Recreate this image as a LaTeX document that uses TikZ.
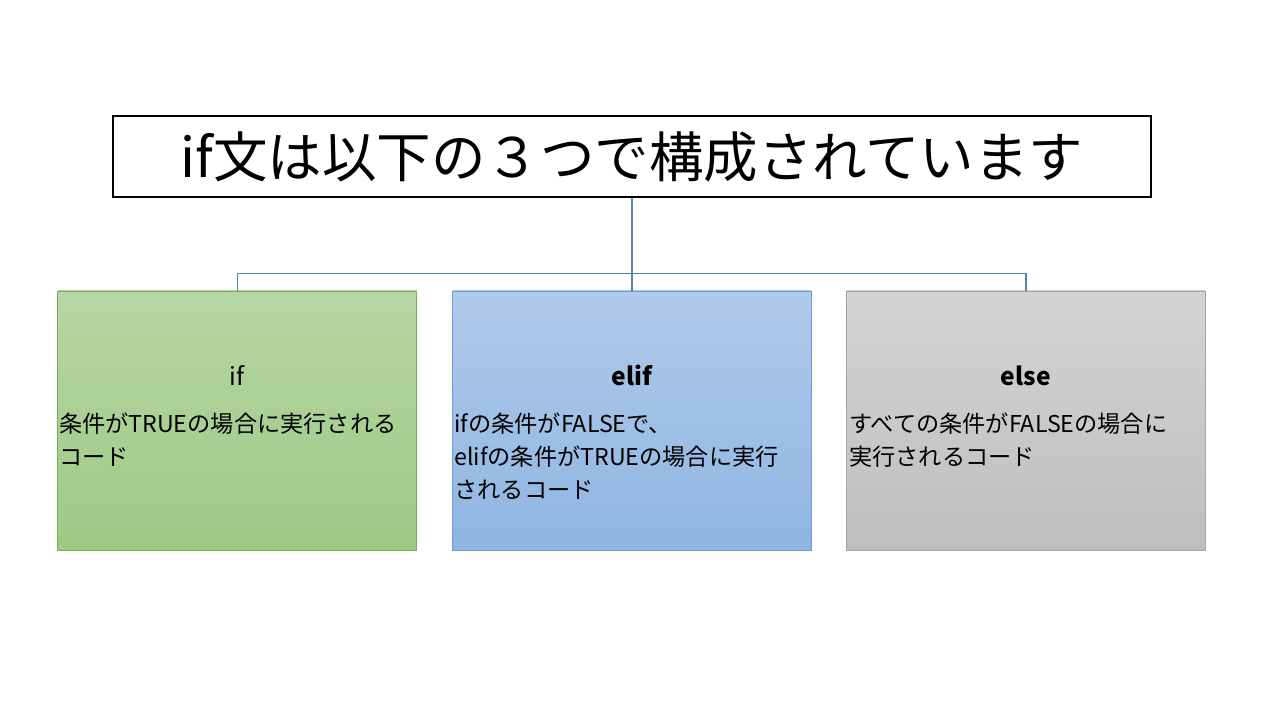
\documentclass[tikz,border=0pt]{standalone}
\usepackage{fontspec}
\setmainfont{Noto Sans CJK JP}
\usetikzlibrary{positioning}
\definecolor{linkblue}{RGB}{84,130,180}
\definecolor{greentop}{RGB}{182,215,164}
\definecolor{greenbot}{RGB}{157,201,132}
\definecolor{greenline}{RGB}{120,172,88}
\definecolor{bluetop}{RGB}{176,202,234}
\definecolor{bluebot}{RGB}{143,181,226}
\definecolor{blueline}{RGB}{106,155,211}
\definecolor{graytop}{RGB}{212,212,212}
\definecolor{graybot}{RGB}{190,190,190}
\definecolor{grayline}{RGB}{165,165,165}
\tikzset{
  titlebox/.style={draw=black, line width=0.6pt, minimum width=20.76cm, minimum height=1.62cm,
    inner sep=0pt, font=\fontsize{31}{36}\selectfont},
  casebox/.style={line width=0.5pt, minimum width=7.18cm, minimum height=5.18cm, inner sep=0pt},
  headtext/.style={inner sep=0pt, font=\fontsize{14}{18}\selectfont},
  bodytext/.style={anchor=north west, inner sep=0pt, align=left, font=\fontsize{13.2}{18.7}\selectfont},
  link/.style={draw=linkblue, line width=0.7pt}
}
\begin{document}
\begin{tikzpicture}
  \useasboundingbox[fill=white] (0,0) rectangle (25.6,14.4);
  % title
  \node[titlebox] (title) at (12.64,11.27) {if文は以下の３つで構成されています};
  % the three cases
  \node[casebox, below=1.86cm of title, draw=blueline, top color=bluetop, bottom color=bluebot] (elifbox) {};
  \node[casebox, left=0.7cm of elifbox, draw=greenline, top color=greentop, bottom color=greenbot] (ifbox) {};
  \node[casebox, right=0.68cm of elifbox, draw=grayline, top color=graytop, bottom color=graybot] (elsebox) {};
  % connectors
  \coordinate[below=1.52cm of title.south] (hub);
  \draw[link] (title.south) -- (hub) -- (elifbox.north);
  \draw[link] (hub) -| (ifbox.north);
  \draw[link] (hub) -| (elsebox.north);
  % labels
  \node[headtext] (ifhead) at ([yshift=-1.7cm]ifbox.north) {if};
  \node[headtext, font=\fontsize{14}{18}\selectfont\bfseries] (elifhead) at ([yshift=-1.7cm]elifbox.north) {elif};
  \node[headtext, font=\fontsize{14}{18}\selectfont\bfseries] (elsehead) at ([yshift=-1.7cm]elsebox.north) {else};
  \node[bodytext] (ifbody) at ([xshift=0.03cm, yshift=-2.44cm]ifbox.north west)
    {条件がTRUEの場合に実行される\\コード};
  \node[bodytext] (elifbody) at ([xshift=0.04cm, yshift=-2.44cm]elifbox.north west)
    {ifの条件がFALSEで、\\elifの条件がTRUEの場合に実行\\されるコード};
  \node[bodytext] (elsebody) at ([xshift=0.06cm, yshift=-2.44cm]elsebox.north west)
    {すべての条件がFALSEの場合に\\実行されるコード};
\end{tikzpicture}
\end{document}
